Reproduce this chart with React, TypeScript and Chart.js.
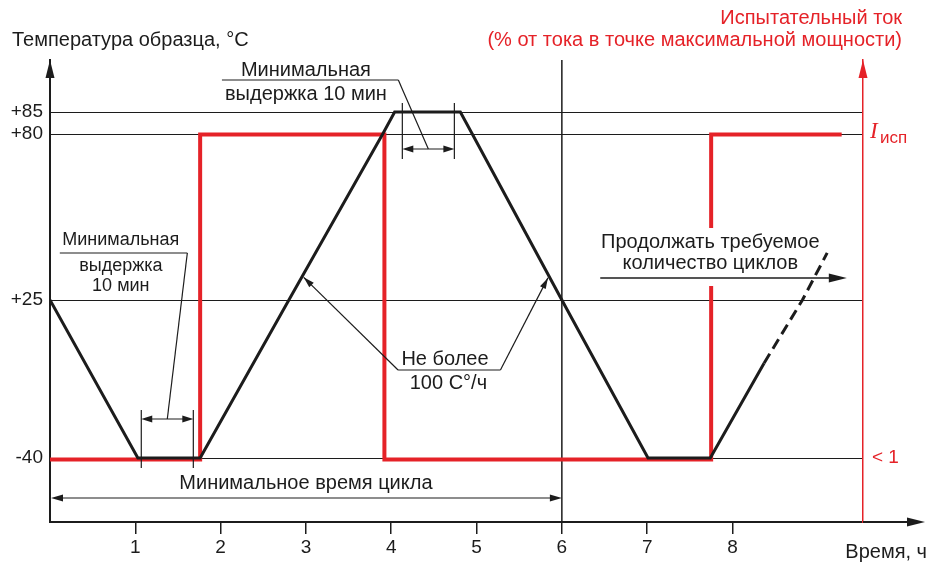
import React, { useEffect, useRef } from 'react';
import { Chart, registerables, LinearScale } from 'chart.js';

const FONT = '"Liberation Sans", Arial, Helvetica, sans-serif';
const SERIF = '"Liberation Serif", "Times New Roman", serif';
const RED = '#e52228';
const INK = '#1c1c1c';
const F20 = `20px ${FONT}`;
const F18 = `18px ${FONT}`;

// ---- data ----
const tempLevels = [-40, 25, 80, 85];
const tempLevelLabels = ['-40', '+25', '+80', '+85'];
const timeTicks = [1, 2, 3, 4, 5, 6, 7, 8];

// sample temperature (°C) vs time (h)
const tempTime = [0, 1.03, 1.76, 2.8, 3.9, 4.04, 4.81, 4.95, 6.0, 7.01, 7.74, 8.37];
const tempValue = [25, -40, -40, 25, 80, 85, 85, 80, 25, -40, -40, -1];
// continuation (dashed)
const nextTime = [8.37, 8.82, 9.11];
const nextValue = [-1, 25, 40.6];
// test current: 0 = "< 1", 1 = I исп
const currentTime = [0, 1.76, 1.76, 3.92, 3.92, 7.75, 7.75, 9.28];
const currentLevel = [0, 0, 1, 1, 0, 0, 1, 1];

const holdTop = [4.13, 4.74];
const holdLeft = [1.07, 1.68];
const cycle = [0, 6];
const rateTips = [2.95, 5.86];

// schematic (non-uniform) temperature axis
const yKnotValues = [-62, -40, 25, 80, 85, 110];
const yKnotPos = [0, 0.1385, 0.4805, 0.8398, 0.8874, 1];

function toDec(v: number) {
  const n = yKnotValues.length;
  let i = 0;
  while (i < n - 2 && v > yKnotValues[i + 1]) i++;
  const a = yKnotValues[i], b = yKnotValues[i + 1];
  return yKnotPos[i] + ((v - a) / (b - a)) * (yKnotPos[i + 1] - yKnotPos[i]);
}
function fromDec(d: number) {
  const n = yKnotPos.length;
  let i = 0;
  while (i < n - 2 && d > yKnotPos[i + 1]) i++;
  const a = yKnotPos[i], b = yKnotPos[i + 1];
  return yKnotValues[i] + ((d - a) / (b - a)) * (yKnotValues[i + 1] - yKnotValues[i]);
}

class PiecewiseScale extends LinearScale {
  static id = 'piecewise';
  static defaults = { ...(LinearScale as any).defaults };
  getPixelForValue(value: number) {
    if (value === null || value === undefined || isNaN(value)) return NaN;
    return (this as any).getPixelForDecimal(toDec(value));
  }
  getValueForPixel(pixel: number) {
    return fromDec((this as any).getDecimalForPixel(pixel));
  }
}

Chart.register(...registerables, PiecewiseScale as any);

function interpTemp(t: number) {
  for (let i = 0; i < tempTime.length - 1; i++) {
    if (t >= tempTime[i] && t <= tempTime[i + 1]) {
      const f = (t - tempTime[i]) / (tempTime[i + 1] - tempTime[i] || 1);
      return tempValue[i] + f * (tempValue[i + 1] - tempValue[i]);
    }
  }
  return tempValue[tempValue.length - 1];
}

function head(ctx: CanvasRenderingContext2D, x: number, y: number, ang: number, len: number, half: number, color: string) {
  ctx.save();
  ctx.translate(x, y);
  ctx.rotate(ang);
  ctx.beginPath();
  ctx.moveTo(0, 0);
  ctx.lineTo(-len, -half);
  ctx.lineTo(-len, half);
  ctx.closePath();
  ctx.fillStyle = color;
  ctx.fill();
  ctx.restore();
}

function line(ctx: CanvasRenderingContext2D, x1: number, y1: number, x2: number, y2: number, w = 1.2, color = INK) {
  ctx.save();
  ctx.beginPath();
  ctx.moveTo(x1, y1);
  ctx.lineTo(x2, y2);
  ctx.lineWidth = w;
  ctx.strokeStyle = color;
  ctx.stroke();
  ctx.restore();
}

function txt(ctx: CanvasRenderingContext2D, s: string, x: number, y: number, align: CanvasTextAlign = 'center', color = INK, font = F20) {
  ctx.save();
  ctx.font = font;
  ctx.fillStyle = color;
  ctx.textAlign = align;
  ctx.textBaseline = 'middle';
  ctx.fillText(s, x, y);
  ctx.restore();
}

function dimArrow(ctx: CanvasRenderingContext2D, x1: number, x2: number, y: number) {
  line(ctx, x1 + 6, y, x2 - 6, y, 1.2);
  head(ctx, x1, y, Math.PI, 11, 3.5, INK);
  head(ctx, x2, y, 0, 11, 3.5, INK);
}

const annotations = {
  id: 'annotations',
  beforeDatasetsDraw(chart: any) {
    const { ctx, chartArea, scales } = chart;
    const X = (t: number) => scales.x.getPixelForValue(t);
    line(ctx, X(cycle[1]), chartArea.top, X(cycle[1]), chartArea.bottom, 1.5);
  },
  afterDatasetDraw(chart: any, args: any) {
    if (args.index !== 0) return;
    const { ctx, scales } = chart;
    const X = (t: number) => scales.x.getPixelForValue(t);
    const Y = (v: number) => scales.y.getPixelForValue(v);
    ctx.save();
    ctx.fillStyle = '#ffffff';
    ctx.fillRect(X(6.42), Y(25) - 72, X(9.4) - X(6.42), 58);
    ctx.restore();
  },
  afterDatasetsDraw(chart: any) {
    const { ctx, chartArea, scales } = chart;
    const X = (t: number) => scales.x.getPixelForValue(t);
    const Y = (v: number) => scales.y.getPixelForValue(v);

    // axis arrows
    line(ctx, chartArea.right, chartArea.bottom, 912, chartArea.bottom, 2);
    head(ctx, 925, chartArea.bottom, 0, 18, 4.5, INK);
    head(ctx, chartArea.left, chartArea.top, -Math.PI / 2, 18, 4.5, INK);
    head(ctx, chartArea.right, chartArea.top, -Math.PI / 2, 18, 4.5, RED);

    // titles
    txt(ctx, 'Температура образца, °C', 12, 40, 'left');
    txt(ctx, 'Испытательный ток', 902, 18, 'right', RED);
    txt(ctx, '(% от тока в точке максимальной мощности)', 902, 40, 'right', RED);
    txt(ctx, 'Время, ч', 927, 552, 'right');

    // right axis labels
    txt(ctx, '< 1', 872, Y(-40), 'left', RED, `19px ${FONT}`);
    ctx.save();
    ctx.fillStyle = RED;
    ctx.textBaseline = 'alphabetic';
    ctx.textAlign = 'left';
    ctx.font = `italic 23px ${SERIF}`;
    ctx.fillText('I', 870, Y(80) + 4);
    ctx.font = `17px ${FONT}`;
    ctx.fillText('исп', 880, Y(80) + 9);
    ctx.restore();

    // top hold
    {
      const x1 = X(holdTop[0]), x2 = X(holdTop[1]);
      const ay = Y(80) + 15;
      line(ctx, x1, Y(85) - 9, x1, Y(80) + 25);
      line(ctx, x2, Y(85) - 9, x2, Y(80) + 25);
      dimArrow(ctx, x1, x2, ay);
      const cx = X(3.0);
      txt(ctx, 'Минимальная', cx, Y(85) - 42);
      txt(ctx, 'выдержка 10 мин', cx, Y(85) - 18);
      line(ctx, cx - 84, Y(85) - 32, x1 - 4, Y(85) - 32);
      line(ctx, x1 - 4, Y(85) - 32, (x1 + x2) / 2, ay);
    }

    // left hold
    {
      const x1 = X(holdLeft[0]), x2 = X(holdLeft[1]);
      const ay = Y(-40) - 39;
      line(ctx, x1, Y(-40) - 48, x1, Y(-40) + 10);
      line(ctx, x2, Y(-40) - 48, x2, Y(-40) + 10);
      dimArrow(ctx, x1, x2, ay);
      const cx = X(0.83);
      txt(ctx, 'Минимальная', cx, Y(25) - 60, 'center', INK, F18);
      txt(ctx, 'выдержка', cx, Y(25) - 34, 'center', INK, F18);
      txt(ctx, '10 мин', cx, Y(25) - 14, 'center', INK, F18);
      line(ctx, cx - 61, Y(25) - 47, x2 - 6, Y(25) - 47);
      line(ctx, x2 - 6, Y(25) - 47, (x1 + x2) / 2, ay);
    }

    // cycle time
    {
      const x1 = X(cycle[0]), x2 = X(cycle[1]);
      const ay = Y(-40) + 40;
      line(ctx, x1 + 6, ay, x2 - 6, ay, 1.2);
      head(ctx, x1 + 1, ay, Math.PI, 12, 3.5, INK);
      head(ctx, x2, ay, 0, 12, 3.5, INK);
      txt(ctx, 'Минимальное время цикла', X(3.0), Y(-40) + 25);
    }

    // rate
    {
      const uy = Y(25) + 70;
      const ux1 = X(4.08), ux2 = X(5.28);
      line(ctx, ux1, uy, ux2, uy);
      const tl = { x: X(rateTips[0]) + 2, y: Y(interpTemp(rateTips[0])) };
      const tr = { x: X(rateTips[1]) - 2, y: Y(interpTemp(rateTips[1])) };
      line(ctx, ux1, uy, tl.x, tl.y);
      line(ctx, ux2, uy, tr.x, tr.y);
      head(ctx, tl.x, tl.y, Math.atan2(tl.y - uy, tl.x - ux1), 11, 3.2, INK);
      head(ctx, tr.x, tr.y, Math.atan2(tr.y - uy, tr.x - ux2), 11, 3.2, INK);
      txt(ctx, 'Не более', X(4.63), Y(25) + 59);
      txt(ctx, '100 С°/ч', X(4.67), Y(25) + 83);
    }

    // continue
    {
      const cx = X(7.74);
      txt(ctx, 'Продолжать требуемое', cx, Y(25) - 58);
      txt(ctx, 'количество циклов', cx, Y(25) - 37);
      const ay = Y(25) - 22;
      line(ctx, X(6.45), ay, X(9.34) - 10, ay, 1.6);
      head(ctx, X(9.34), ay, 0, 18, 4.5, INK);
    }
  },
};

export default function App() {
  const ref = useRef<HTMLCanvasElement | null>(null);
  useEffect(() => {
    if (!ref.current) return;
    const font = { family: FONT, size: 19 };
    const chart = new Chart(ref.current, {
      type: 'line',
      data: {
        datasets: [
          {
            label: 'Испытательный ток',
            data: currentTime.map((t, i) => ({ x: t, y: currentLevel[i] })),
            yAxisID: 'y2',
            borderColor: RED,
            borderWidth: 4,
            pointRadius: 0,
            tension: 0,
            order: 2,
            borderJoinStyle: 'miter',
          },
          {
            label: 'Температура',
            data: tempTime.map((t, i) => ({ x: t, y: tempValue[i] })),
            yAxisID: 'y',
            borderColor: INK,
            borderWidth: 3,
            pointRadius: 0,
            tension: 0,
            order: 1,
            borderJoinStyle: 'miter',
          },
          {
            label: 'Продолжение',
            data: nextTime.map((t, i) => ({ x: t, y: nextValue[i] })),
            yAxisID: 'y',
            borderColor: INK,
            borderWidth: 3,
            borderDash: [11, 6],
            pointRadius: 0,
            tension: 0,
            order: 1,
          },
        ],
      } as any,
      options: {
        animation: false,
        responsive: false,
        events: [],
        layout: { padding: { top: 60, left: 0, right: 0, bottom: 0 } },
        plugins: { legend: { display: false }, tooltip: { enabled: false } },
        scales: {
          x: {
            type: 'linear',
            min: 0,
            max: 9.53,
            afterBuildTicks: (s: any) => {
              s.ticks = timeTicks.map((v) => ({ value: v }));
            },
            afterFit: (s: any) => {
              s.height = 40;
            },
            grid: { drawOnChartArea: false, drawTicks: true, tickLength: 12, color: INK, lineWidth: 1.5 },
            border: { display: true, color: INK, width: 2 },
            ticks: { color: INK, font, padding: 2, autoSkip: false, maxRotation: 0, callback: (v: any) => String(v) },
          },
          y: {
            type: 'piecewise',
            position: 'left',
            min: -62,
            max: 110,
            afterBuildTicks: (s: any) => {
              s.ticks = tempLevels.map((v) => ({ value: v }));
            },
            afterFit: (s: any) => {
              s.width = 50;
            },
            grid: { color: INK, lineWidth: 1, drawTicks: false },
            border: { display: true, color: INK, width: 2 },
            ticks: {
              autoSkip: false,
              color: INK,
              font,
              padding: 7,
              callback: (v: any) => {
                const i = tempLevels.indexOf(Number(v));
                return i >= 0 ? tempLevelLabels[i] : '';
              },
            },
          },
          y2: {
            type: 'linear',
            position: 'right',
            min: -0.1923,
            max: 1.2294,
            afterFit: (s: any) => {
              s.width = 66;
            },
            grid: { display: false },
            border: { display: true, color: RED, width: 1.5 },
            ticks: { display: false },
          },
        } as any,
      },
      plugins: [annotations as any],
    });
    return () => chart.destroy();
  }, []);
  return (
    <div style={{ position: 'absolute', left: 0, top: 0, width: 929, height: 562, background: '#fff' }}>
      <canvas ref={ref} width={929} height={562} style={{ display: 'block' }} />
    </div>
  );
}
